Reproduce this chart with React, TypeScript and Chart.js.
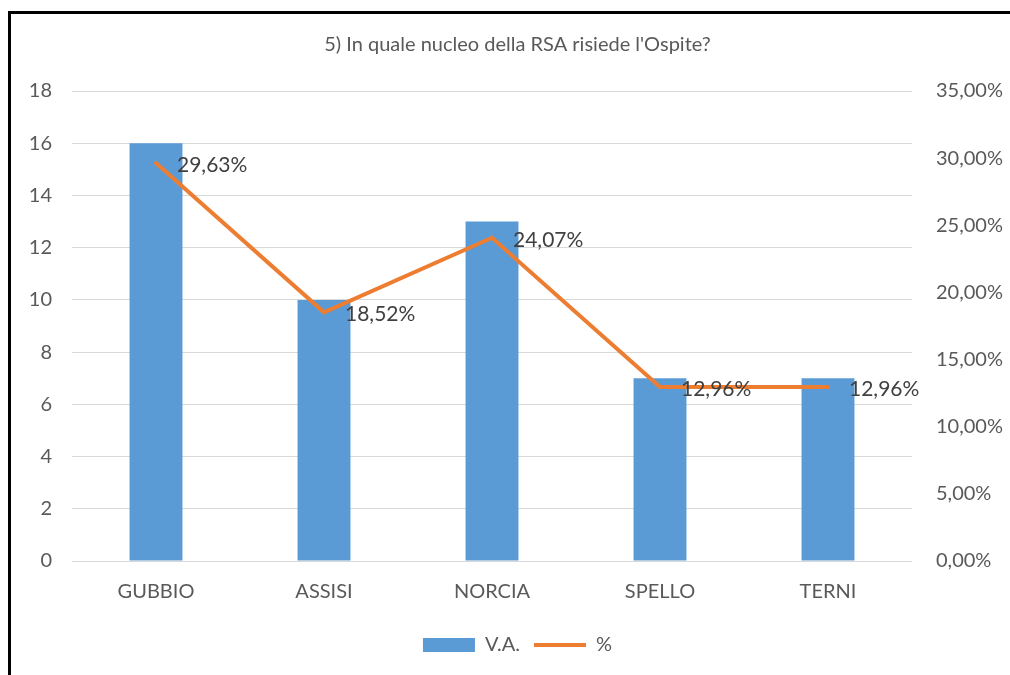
import React, { useEffect, useRef } from "react";
import { Chart, registerables } from "chart.js";

Chart.register(...registerables);

const categories = ["GUBBIO", "ASSISI", "NORCIA", "SPELLO", "TERNI"];
const vaValues = [16, 10, 13, 7, 7];
const pctValues = [29.63, 18.52, 24.07, 12.96, 12.96];
const titleText = "5) In quale nucleo della RSA risiede l'Ospite?";
const FONT = "Lato, 'Noto Sans', sans-serif";

const fmtPct = (v: number) => v.toFixed(2).replace(".", ",") + "%";

const labelPlugin = {
  id: "pctLabels",
  afterDatasetsDraw(chart: any) {
    const meta = chart.getDatasetMeta(1);
    const ctx = chart.ctx;
    ctx.save();
    ctx.font = `21px ${FONT}`;
    ctx.fillStyle = "#404040";
    ctx.textAlign = "left";
    ctx.textBaseline = "middle";
    meta.data.forEach((pt: any, i: number) => {
      ctx.fillText(fmtPct(pctValues[i]), pt.x + 21, pt.y + 2);
    });
    ctx.restore();
  },
};

export default function App() {
  const ref = useRef<HTMLCanvasElement>(null);
  useEffect(() => {
    document.documentElement.style.overflow = "hidden";
    const chart = new Chart(ref.current!, {
      type: "bar",
      data: {
        labels: categories,
        datasets: [
          {
            type: "bar",
            label: "V.A.",
            data: vaValues,
            backgroundColor: "#5B9BD5",
            barPercentage: 1,
            categoryPercentage: 0.315,
            yAxisID: "y",
            pointStyle: "rect",
            order: 2,
          } as any,
          {
            type: "line",
            label: "%",
            data: pctValues,
            borderColor: "#ED7D31",
            backgroundColor: "#ED7D31",
            borderWidth: 4,
            pointRadius: 0,
            pointStyle: "line",
            borderCapStyle: "round",
            yAxisID: "y1",
            tension: 0,
            order: 1,
          } as any,
        ],
      },
      options: {
        animation: false,
        responsive: false,
        maintainAspectRatio: false,
        layout: { padding: { left: 14, right: 0, top: 0, bottom: 10 } },
        plugins: {
          title: {
            display: true,
            text: titleText,
            color: "#595959",
            font: { family: FONT, size: 20, weight: "normal" },
            padding: { top: 19, bottom: 34 },
          },
          legend: {
            display: true,
            position: "bottom",
            labels: {
              usePointStyle: true,
              pointStyleWidth: 52,
              boxHeight: 14,
              color: "#595959",
              font: { family: FONT, size: 20 },
              padding: 14,
              sort: (a: any, b: any) => a.datasetIndex - b.datasetIndex,
            },
          },
          tooltip: { enabled: false },
        },
        scales: {
          x: {
            grid: { display: false },
            border: { display: false },
            ticks: {
              color: "#595959",
              font: { family: FONT, size: 20 },
              padding: 11,
            },
            afterFit: (s: any) => {
              s.height = 60;
            },
          },
          y: {
            position: "left",
            min: 0,
            max: 18,
            ticks: {
              stepSize: 2,
              color: "#595959",
              font: { family: FONT, size: 20 },
              padding: 20,
            },
            grid: { color: "#d9d9d9", drawTicks: false },
            border: { display: false },
            afterFit: (s: any) => {
              s.width = 47;
            },
          },
          y1: {
            position: "right",
            min: 0,
            max: 35,
            ticks: {
              stepSize: 5,
              color: "#595959",
              font: { family: FONT, size: 20 },
              padding: 24,
              callback: (v: any) => fmtPct(Number(v)),
            },
            grid: { display: false, drawTicks: false },
            border: { display: false },
            afterFit: (s: any) => {
              s.width = 98;
            },
          },
        },
      },
      plugins: [labelPlugin],
    });
    return () => chart.destroy();
  }, []);

  return (
    <div
      style={{
        position: "fixed",
        left: 8,
        top: 11,
        width: 1010,
        height: 700,
        border: "3px solid #000",
        background: "#fff",
      }}
    >
      <canvas
        ref={ref}
        width={999}
        height={661}
        style={{ position: "absolute", left: 0, top: 0, width: 999, height: 661 }}
      />
    </div>
  );
}
